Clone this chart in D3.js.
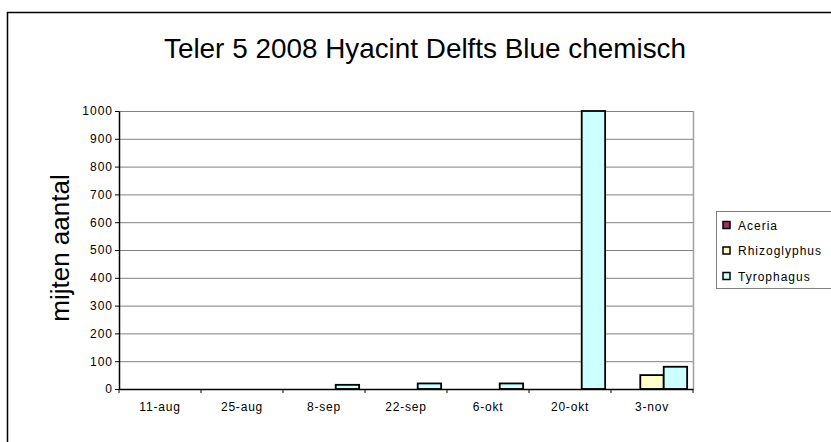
<!DOCTYPE html>
<html><head><meta charset="utf-8">
<script src="https://cdn.jsdelivr.net/npm/d3@7"></script>
<style>body{margin:0;background:#fff}svg{display:block}</style>
</head><body><svg id="c" width="831" height="442"></svg>
<script>
const categories = ["11-aug","25-aug","8-sep","22-sep","6-okt","20-okt","3-nov"];
const seriesNames = ["Aceria","Rhizoglyphus","Tyrophagus"];
const aceria = [0,0,0,0,0,0,0];
const rhizoglyphus = [0,0,0,0,0,0,50];
const tyrophagus = [0,0,15,20,20,1000,80];
const yTicks = [0,100,200,300,400,500,600,700,800,900,1000];
const colors = ["#993366","#FFFFCC","#CCFFFF"];
const titleText = "Teler 5 2008 Hyacint Delfts Blue chemisch";
const yLabel = "mijten aantal";

const values = [aceria, rhizoglyphus, tyrophagus];
const svg = d3.select("#c");
const L = 119, R = 693, T = 111, B = 389;
const FONT = "Liberation Sans, Arial, sans-serif";

svg.append("rect").attr("x",7.5).attr("y",12.5).attr("width",840).attr("height",450)
  .attr("fill","#fff").attr("stroke","#000").attr("stroke-width",1.5);

const x = d3.scaleBand().domain(categories).range([L,R]).padding(0);
const xs = d3.scaleBand().domain(seriesNames).range([0,x.bandwidth()]).paddingInner(0).paddingOuter(0.25);
const y = d3.scaleLinear().domain([0,1000]).range([B,T]);

// gridlines
svg.append("g").selectAll("line").data(yTicks.filter(d=>d>0)).join("line")
  .attr("x1",L).attr("x2",R).attr("y1",d=>y(d)+0.5).attr("y2",d=>y(d)+0.5)
  .attr("stroke","#808080").attr("stroke-width",1);
// right plot border
svg.append("line").attr("x1",R+0.5).attr("x2",R+0.5).attr("y1",T).attr("y2",B)
  .attr("stroke","#a0a0a0").attr("stroke-width",1.5);

// bars
const g = svg.append("g");
seriesNames.forEach((s,si)=>{
  g.selectAll(".b"+si).data(categories.map((c,i)=>({c,v:values[si][i]})).filter(d=>d.v>0)).join("rect")
    .attr("x",d=>x(d.c)+xs(s))
    .attr("y",d=>y(d.v))
    .attr("width",xs.bandwidth())
    .attr("height",d=>B-y(d.v))
    .attr("fill",colors[si]).attr("stroke","#000").attr("stroke-width",1.8);
});

// y axis
const ya = svg.append("g").attr("transform",`translate(${L},0)`)
  .call(d3.axisLeft(y).tickValues(yTicks).tickFormat(d3.format("d")).tickSize(4).tickSizeOuter(0));
ya.select(".domain").attr("stroke","#000").attr("stroke-width",1.5);
ya.selectAll(".tick line").attr("stroke","#000");
ya.selectAll(".tick text").attr("font-family",FONT).attr("font-size",12).attr("letter-spacing",1).attr("fill","#000").attr("x",-6);

// x axis
const xa = svg.append("g").attr("transform",`translate(0,${B})`)
  .call(d3.axisBottom(x).tickSize(0).tickSizeOuter(0));
xa.select(".domain").attr("stroke","#000").attr("stroke-width",1.5);
xa.selectAll(".tick text").attr("font-family",FONT).attr("font-size",12).attr("letter-spacing",0.8).attr("fill","#000").attr("dy","1.55em");
svg.append("g").selectAll("line").data(d3.range(categories.length+1)).join("line")
  .attr("x1",i=>L+i*x.step()).attr("x2",i=>L+i*x.step())
  .attr("y1",B).attr("y2",B+4).attr("stroke","#000").attr("stroke-width",1);

// title
svg.append("text").attr("x",425).attr("y",58).attr("text-anchor","middle")
  .attr("font-family",FONT).attr("font-size",28).attr("fill","#000")
  .attr("textLength",522).attr("lengthAdjust","spacingAndGlyphs").text(titleText);

// y label
svg.append("text").attr("transform","translate(69,248) rotate(-90)").attr("text-anchor","middle")
  .attr("font-family",FONT).attr("font-size",26).attr("fill","#000").text(yLabel);

// legend
const lg = svg.append("g");
lg.append("rect").attr("x",716.5).attr("y",211.5).attr("width",130).attr("height",77)
  .attr("fill","#fff").attr("stroke","#808080").attr("stroke-width",1);
seriesNames.forEach((s,i)=>{
  const cy = 225 + i*25.5;
  lg.append("rect").attr("x",723).attr("y",cy-3.5).attr("width",7).attr("height",7)
    .attr("fill",colors[i]).attr("stroke","#000").attr("stroke-width",1.5);
  lg.append("text").attr("x",738).attr("y",cy+4.5).attr("font-family",FONT)
    .attr("font-size",12).attr("letter-spacing",1).attr("fill","#000").text(s);
});
</script></body></html>
